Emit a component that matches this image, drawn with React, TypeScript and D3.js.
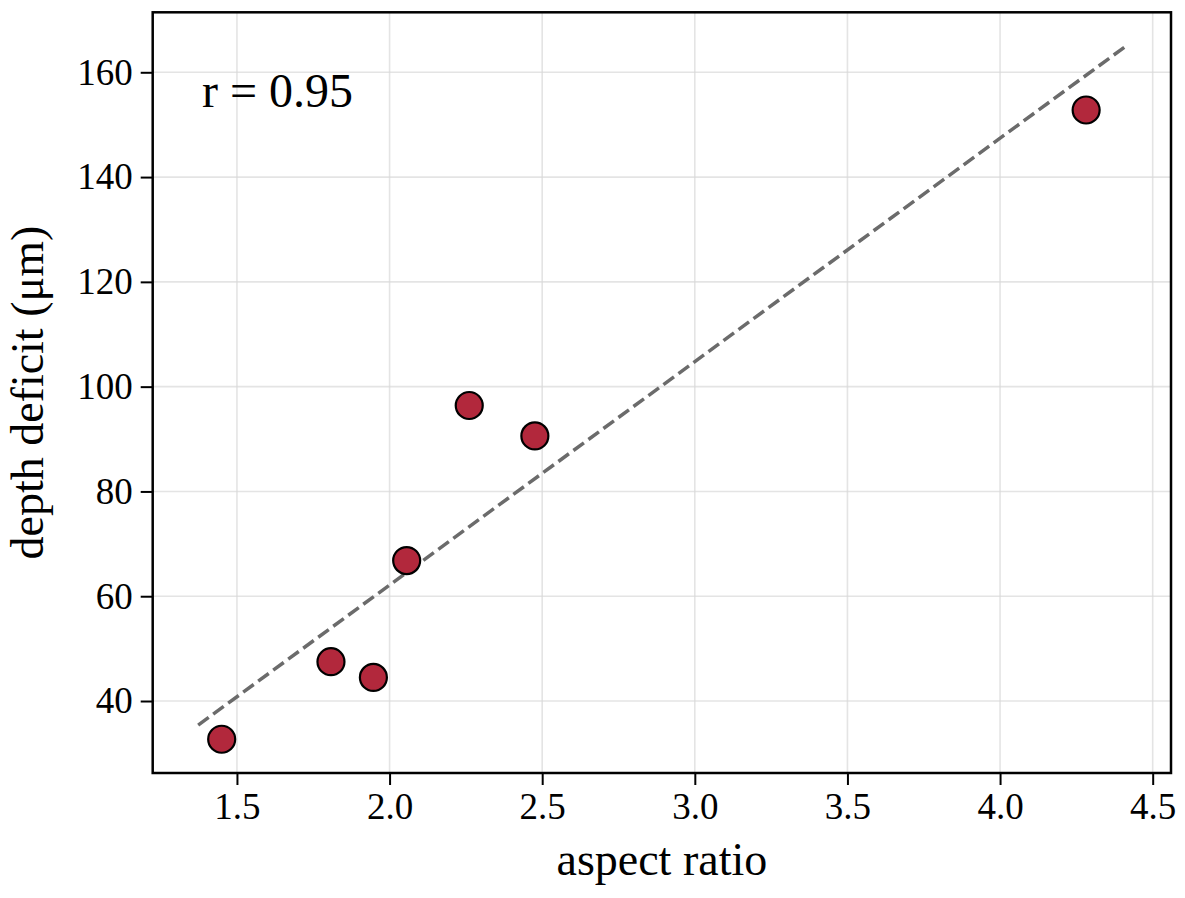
import * as d3 from 'd3';
import { useEffect, useRef } from 'react';

// measured points (aspect ratio vs depth deficit)
const ASPECT = [1.45, 1.808, 1.947, 2.056, 2.261, 2.476, 4.282];
const DEFICIT = [32.7, 47.5, 44.5, 66.8, 96.4, 90.6, 152.8];
// fitted trend line end points
const FIT_X = [1.373, 4.41];
const FIT_Y = [35.4, 164.9];
const X_TICKS = [1.5, 2.0, 2.5, 3.0, 3.5, 4.0, 4.5];
const Y_TICKS = [40, 60, 80, 100, 120, 140, 160];

const W = 1185;
const H = 898;
const M = { top: 12.3, right: 14, bottom: 125, left: 152.7 };
const FONT = '"Liberation Serif", "Times New Roman", "DejaVu Serif", serif';

export default function App() {
  const ref = useRef<SVGSVGElement>(null);

  useEffect(() => {
    if (!ref.current) return;
    const svg = d3.select(ref.current);
    svg.selectAll('*').remove();

    const x = d3.scaleLinear().domain([1.224, 4.56]).range([M.left, W - M.right]);
    const y = d3.scaleLinear().domain([26.26, 171.45]).range([H - M.bottom, M.top]);

    const g = svg.append('g');

    // grid
    g.selectAll('line.gx')
      .data(X_TICKS)
      .join('line')
      .attr('x1', d => x(d)).attr('x2', d => x(d))
      .attr('y1', M.top).attr('y2', H - M.bottom)
      .attr('stroke', '#d9d9d9').attr('stroke-opacity', 0.7).attr('stroke-width', 1.6);
    g.selectAll('line.gy')
      .data(Y_TICKS)
      .join('line')
      .attr('y1', d => y(d)).attr('y2', d => y(d))
      .attr('x1', M.left).attr('x2', W - M.right)
      .attr('stroke', '#d9d9d9').attr('stroke-opacity', 0.7).attr('stroke-width', 1.6);

    // trend line
    const line = d3.line<number>().x((_, i) => x(FIT_X[i])).y(d => y(d));
    g.append('path')
      .attr('d', line(FIT_Y))
      .attr('fill', 'none')
      .attr('stroke', '#6b6b6b')
      .attr('stroke-width', 3.5)
      .attr('stroke-dasharray', '13,5.6');

    // points
    g.selectAll('circle')
      .data(ASPECT)
      .join('circle')
      .attr('cx', d => x(d))
      .attr('cy', (_, i) => y(DEFICIT[i]))
      .attr('r', 13.5)
      .attr('fill', '#b2283c')
      .attr('stroke', '#000')
      .attr('stroke-width', 2.2);

    // axes
    const xAxis = d3.axisBottom(x).tickValues(X_TICKS).tickFormat(d3.format('.1f')).tickSize(12).tickPadding(8);
    const yAxis = d3.axisLeft(y).tickValues(Y_TICKS).tickSize(12).tickPadding(8);
    const gx = svg.append('g').attr('transform', `translate(0,${H - M.bottom})`).call(xAxis);
    const gy = svg.append('g').attr('transform', `translate(${M.left},0)`).call(yAxis);
    [gx, gy].forEach(a => {
      a.select('.domain').remove();
      a.selectAll('line').attr('stroke', '#000').attr('stroke-width', 2);
      a.selectAll('text').attr('font-family', FONT).attr('font-size', 37).attr('fill', '#000');
    });

    // frame
    svg.append('rect')
      .attr('x', M.left).attr('y', M.top)
      .attr('width', W - M.right - M.left).attr('height', H - M.bottom - M.top)
      .attr('fill', 'none').attr('stroke', '#000').attr('stroke-width', 2.5);

    // labels
    svg.append('text')
      .attr('x', (M.left + W - M.right) / 2)
      .attr('y', 875)
      .attr('text-anchor', 'middle')
      .attr('font-family', FONT).attr('font-size', 46)
      .text('aspect ratio');
    svg.append('text')
      .attr('transform', `translate(43,${(M.top + H - M.bottom) / 2}) rotate(-90)`)
      .attr('text-anchor', 'middle')
      .attr('font-family', FONT).attr('font-size', 46)
      .text('depth deficit (μm)');
    svg.append('text')
      .attr('x', 202).attr('y', 107)
      .attr('font-family', FONT).attr('font-size', 48)
      .text('r = 0.95');
  }, []);

  return (
    <div style={{ position: 'fixed', left: 0, top: 0, background: '#fff' }}>
      <svg ref={ref} width={W} height={H} style={{ display: 'block' }} />
    </div>
  );
}
